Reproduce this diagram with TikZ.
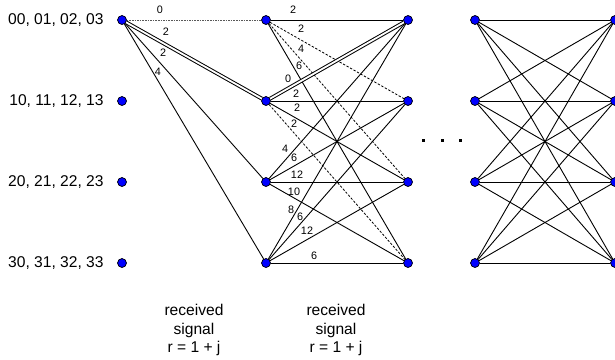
\documentclass[tikz,border=0pt]{standalone}
\usepackage{fontspec}
\setmainfont{Liberation Sans}
\begin{document}
\begin{tikzpicture}[x=0.5pt,y=-0.5pt,
  dot/.style={circle,draw=black,line width=0.3pt,fill=blue,inner sep=0pt,minimum size=4.4pt},
  edge/.style={line width=0.45pt,black},
  dashedge/.style={line width=0.4pt,black,dash pattern=on 1.2pt off 0.8pt},
  dotedge/.style={line width=0.5pt,gray!70!black,dash pattern=on 0.8pt off 0.5pt},
  dbl/.style={line width=0.5pt,double=white,double distance=0.9pt},
  wlab/.style={font=\fontsize{5.4pt}{6pt}\selectfont,inner sep=0pt},
  rowlab/.style={font=\fontsize{7.8pt}{9pt}\selectfont,anchor=east,inner sep=0pt},
  bot/.style={font=\fontsize{7.8pt}{9.3pt}\selectfont,align=center,inner sep=0pt}]
\useasboundingbox (0,0) rectangle (615,359);
% nodes
\foreach \c/\x in {0/122,1/266,2/408,3/475,4/615}{
  \foreach \r/\y in {0/20,1/101,2/182,3/263}{
    \node[dot] (c\c r\r) at (\x,\y) {};
  }
}
% row labels
\node[rowlab] (t0) at (104,20) {00, 01, 02, 03};
\node[rowlab] (t1) at (104,101) {10, 11, 12, 13};
\node[rowlab] (t2) at (104,182) {20, 21, 22, 23};
\node[rowlab] (t3) at (104,263) {30, 31, 32, 33};
% section 1
\draw[dotedge] (c0r0) -- (c1r0);
\draw[dbl] (c0r0) -- (c1r1);
\draw[edge] (c0r0) -- (c1r2);
\draw[edge] (c0r0) -- (c1r3);
% section 2
\draw[edge] (c1r0) -- (c2r0);
\draw[dashedge] (c1r0) -- (c2r1);
\draw[dashedge] (c1r0) -- (c2r2);
\draw[edge] (c1r0) -- (c2r3);
\draw[dbl] (c1r1) -- (c2r0);
\draw[edge] (c1r1) -- (c2r1);
\draw[edge] (c1r1) -- (c2r2);
\draw[dashedge] (c1r1) -- (c2r3);
\foreach \s in {2,3}{
  \foreach \t in {0,1,2,3}{
    \draw[edge] (c1r\s) -- (c2r\t);
  }
}
% section 3
\foreach \s in {0,1,2,3}{
  \foreach \t in {0,1,2,3}{
    \draw[edge] (c3r\s) -- (c4r\t);
  }
}
% redraw dots on top
\foreach \c/\x in {0/122,1/266,2/408,3/475,4/615}{
  \foreach \r/\y in {0/20,1/101,2/182,3/263}{
    \fill[blue,draw=black,line width=0.3pt] (c\c r\r.center) circle (2.2pt);
  }
}
% weights
\node[wlab] (a1) at (160,10) {0};
\node[wlab] (a2) at (166,32) {2};
\node[wlab] (a3) at (163,53) {2};
\node[wlab] (a4) at (158,72) {4};
\node[wlab] (b1) at (293,10) {2};
\node[wlab] (b2) at (301,29) {2};
\node[wlab] (b3) at (301,49) {4};
\node[wlab] (b4) at (299,66) {6};
\node[wlab] (b5) at (288,79) {0};
\node[wlab] (b6) at (296,94) {2};
\node[wlab] (b7) at (297,108) {2};
\node[wlab] (b8) at (294,124) {2};
\node[wlab] (b9) at (285,149) {4};
\node[wlab] (b10) at (294,158) {6};
\node[wlab] (b11) at (297,175) {12};
\node[wlab] (b12) at (294,192) {10};
\node[wlab] (b13) at (291,210) {8};
\node[wlab] (b14) at (300,217) {6};
\node[wlab] (b15) at (307,231) {12};
\node[wlab] (b16) at (314,256) {6};
% ellipsis dots
\foreach \x/\n in {423/1,442/2,460/3}{
  \fill[black] (\x-1.5,138.5) rectangle (\x+1.5,141.5);
}
% bottom texts
\node[bot] (r1) at (194,330) {received\\signal\\r = 1 + j};
\node[bot] (r2) at (336,330) {received\\signal\\r = 1 + j};
\end{tikzpicture}
\end{document}
